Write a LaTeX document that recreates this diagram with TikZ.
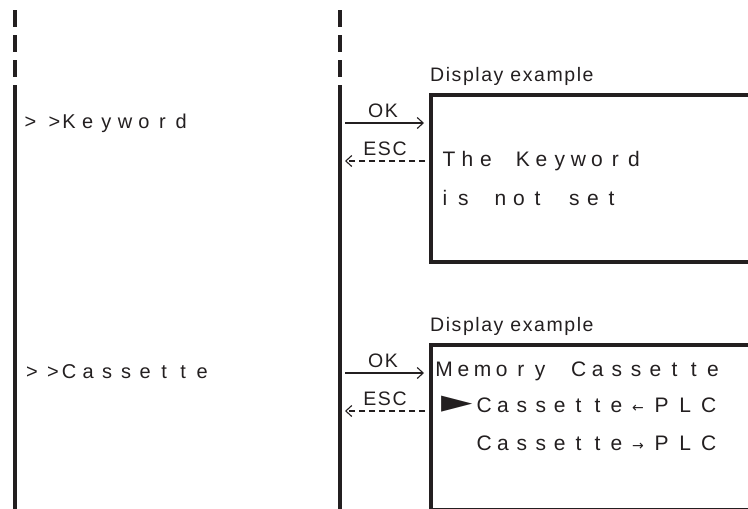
\documentclass[tikz,border=0pt]{standalone}
\usepackage{fontspec}
\setmainfont{Liberation Sans}
\newfontfamily\lightsp[LetterSpace=8]{Liberation Sans}
\newfontfamily\symf{DejaVu Sans}
\usetikzlibrary{arrows.meta}
\definecolor{ink}{HTML}{231F20}
\newlength\cellw
\makeatletter
\newcommand\lcd[2]{\setlength\cellw{#1}\@tfor\lcdch:=#2\do{\makebox[\cellw][c]{\lcdch}}}
\makeatother
\newcommand\larr{{\symf\fontsize{14}{14}\selectfont ←}}
\newcommand\rarr{{\symf\fontsize{14}{14}\selectfont →}}
\newcommand\ptr{\raisebox{0pt}{\scalebox{2.4}[1.9]{\symf\fontsize{17}{17}\selectfont ►}}}
\tikzset{
  lane/.style={line width=3.6pt, draw=ink},
  lanedash/.style={lane, dash pattern=on 17pt off 8pt},
  screen/.style={line width=3.8pt, draw=ink, minimum width=360pt, anchor=north west, inner sep=0pt},
  okarr/.style={line width=1.1pt, draw=ink, -{Straight Barb[length=6pt,width=11pt,line width=1.1pt]}},
  escarr/.style={line width=1.1pt, draw=ink, dash pattern=on 6pt off 4pt, -{Straight Barb[length=6pt,width=11pt,line width=1.1pt]}},
  lbl/.style={font=\lightsp\fontsize{19.5}{19.5}\selectfont, text=ink, inner sep=0pt, anchor=base},
  menu/.style={font=\fontsize{20}{20}\selectfont, text=ink, inner sep=0pt, anchor=base west},
  disp/.style={font=\fontsize{21}{21}\selectfont, text=ink, inner sep=0pt, anchor=base west},
  captext/.style={font=\lightsp\fontsize{19.5}{19.5}\selectfont, text=ink, inner sep=0pt, anchor=base west},
}
\begin{document}
\begin{tikzpicture}[x=1pt,y=-1pt]
\useasboundingbox (0,0) rectangle (748,509);
% lanes
\coordinate (l1a) at (15,10); \coordinate (l1b) at (15,78); \coordinate (l1c) at (15,85); \coordinate (l1d) at (15,512);
\coordinate (l2a) at (340,10); \coordinate (l2b) at (340,78); \coordinate (l2c) at (340,85); \coordinate (l2d) at (340,512);
\draw[lanedash] (l1a) -- (l1b);
\draw[lane] (l1c) -- (l1d);
\draw[lanedash] (l2a) -- (l2b);
\draw[lane] (l2c) -- (l2d);
% screens
\node[screen, minimum height=167pt] (s1) at (429,93) {};
\node[screen, minimum height=165pt] (s2) at (429,343) {};
\node[captext] (c1) at (430,81) {Display example};
\node[captext] (c2) at (430,331) {Display example};
% menu items
\node[menu] (m1) at (24.5,128) {\makebox[24pt][l]{>}\makebox[11pt][l]{>}\lcd{18.7pt}{Keyword}};
\node[menu] (m2) at (26,378) {\makebox[21pt][l]{>}\makebox[12.5pt][l]{>}\lcd{19pt}{Cassette}};
% arrows section 1
\coordinate (o1s) at (345,123); \coordinate (o1e) at (s1.west |- o1s);
\coordinate (e1s) at (425,161); \coordinate (e1e) at (345,161);
\draw[okarr] (o1s) -- ([xshift=-5pt]o1e);
\draw[escarr] (e1s) -- (e1e);
\node[lbl] (ok1) at (383,117) {OK};
\node[lbl] (esc1) at (385,155) {ESC};
% arrows section 2
\coordinate (o2s) at (345,373); \coordinate (o2e) at (s2.west |- o2s);
\coordinate (e2s) at (425,411); \coordinate (e2e) at (345,411);
\draw[okarr] (o2s) -- ([xshift=-5pt]o2e);
\draw[escarr] (e2s) -- (e2e);
\node[lbl] (ok2) at (383,367) {OK};
\node[lbl] (esc2) at (385,405) {ESC};
% screen texts
\node[disp] (t1) at (439.5,166) {\lcd{18.5pt}{The~Keyword}};
\node[disp] (t2) at (435.5,205) {\lcd{18.5pt}{is~not~set}};
\node[disp] (t3) at (434.4,376) {\lcd{19.2pt}{Memory~Cassette}};
\node[disp] (t4) at (441,412) {\makebox[33.5pt][l]{\ptr}\lcd{18.9pt}{Cassette}\makebox[24pt][c]{\larr}\lcd{23.5pt}{PLC}};
\node[disp] (t5) at (474.5,450) {\lcd{18.9pt}{Cassette}\makebox[24pt][c]{\rarr}\lcd{23.5pt}{PLC}};
\end{tikzpicture}
\end{document}
